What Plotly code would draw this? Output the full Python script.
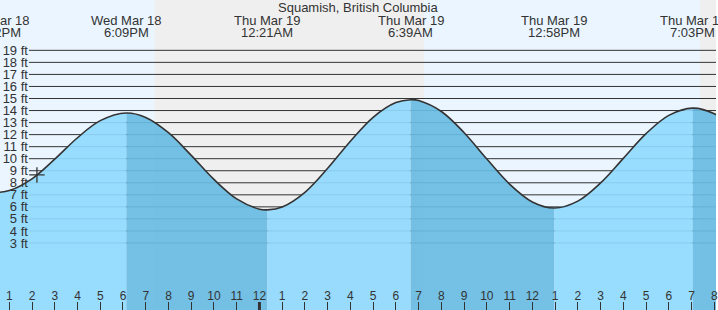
import plotly.graph_objects as go
import pandas as pd

# ---------------- data ----------------
times = [
    "2026-03-18 12:00", "2026-03-18 12:22", "2026-03-18 13:00", "2026-03-18 14:00",
    "2026-03-18 15:00", "2026-03-18 16:00", "2026-03-18 17:00", "2026-03-18 18:09",
    "2026-03-18 19:00", "2026-03-18 20:00", "2026-03-18 21:00", "2026-03-18 22:00",
    "2026-03-18 23:00", "2026-03-19 00:00", "2026-03-19 00:21", "2026-03-19 01:00",
    "2026-03-19 02:00", "2026-03-19 03:00", "2026-03-19 04:00", "2026-03-19 05:00",
    "2026-03-19 06:00", "2026-03-19 06:39", "2026-03-19 07:00", "2026-03-19 08:00",
    "2026-03-19 09:00", "2026-03-19 10:00", "2026-03-19 11:00", "2026-03-19 12:00",
    "2026-03-19 12:58", "2026-03-19 14:00", "2026-03-19 15:00", "2026-03-19 16:00",
    "2026-03-19 17:00", "2026-03-19 18:00", "2026-03-19 19:03", "2026-03-19 20:00",
    "2026-03-19 21:00",
]
heights = [
    7.20, 7.18, 7.35, 8.33,
    9.96, 11.74, 13.16, 13.80,
    13.43, 12.16, 10.28, 8.28,
    6.66, 5.81, 5.75, 5.99,
    7.21, 9.20, 11.45, 13.44,
    14.66, 14.90, 14.83, 13.92,
    12.16, 9.97, 7.89, 6.41,
    5.90, 6.48, 7.99, 10.03,
    12.08, 13.60, 14.20, 13.73,
    12.33,
]

ext_times = ["2026-03-18 12:22", "2026-03-18 18:09", "2026-03-19 00:21",
             "2026-03-19 06:39", "2026-03-19 12:58", "2026-03-19 19:03"]
ext_kind = ["low", "high", "low", "high", "low", "high"]

sun_events = ["2026-03-18 19:23", "2026-03-19 07:14", "2026-03-19 19:22"]  # sunset, sunrise, sunset

now_time = ["2026-03-18 14:13"]
now_height = [8.65]

ft_ticks = list(range(3, 20))
ft_labels = [f"{v} ft" for v in ft_ticks]
x_range = ["2026-03-18 12:35:32", "2026-03-19 20:04:30"]
y_range = [-2.565, 23.18]
midnight = "2026-03-19 00:00"
title = "Squamish, British Columbia"

# ---------------- styles ----------------
W, H = 718, 310
TXT = "#333333"
FONT = "Liberation Sans, Arial, sans-serif"
DAY_BG = "#eaf5ff"
NIGHT_BG = "#efefef"
WATER_RISE = "rgba(144,217,254,0.92)"
WATER_FALL = "rgba(105,188,227,0.92)"

t = pd.to_datetime(pd.Series(times))
h = pd.Series(heights)
x0, x1 = pd.Timestamp(x_range[0]), pd.Timestamp(x_range[1])


def to_paper(ts):
    return (pd.Timestamp(ts) - x0) / (x1 - x0)


fig = go.Figure()

# water fill, split into rising (light) and falling (dark) segments
ext_t = list(pd.to_datetime(pd.Series(ext_times)))
bounds = [t.iloc[0]] + ext_t[1:] + [t.iloc[-1]]
start_kind = ["low"] + ext_kind[1:]
base = y_range[0] - 3
for i in range(len(bounds) - 1):
    a, b = bounds[i], bounds[i + 1]
    m = (t >= a) & (t <= b)
    xs = list(t[m])
    ys = list(h[m])
    fig.add_trace(go.Scatter(x=[xs[0], xs[-1]], y=[base, base], mode="lines",
                             line=dict(width=0), hoverinfo="skip", showlegend=False))
    fig.add_trace(go.Scatter(x=xs, y=ys, mode="lines",
                             line=dict(width=0, shape="spline"),
                             fill="tonexty",
                             fillcolor=WATER_FALL if start_kind[i] == "high" else WATER_RISE,
                             hoverinfo="skip", showlegend=False))

# tide curve line
fig.add_trace(go.Scatter(x=t, y=h, mode="lines",
                         line=dict(color=TXT, width=1.6, shape="spline"),
                         hoverinfo="skip", showlegend=False))

# current-time marker
fig.add_trace(go.Scatter(x=pd.to_datetime(pd.Series(now_time)), y=now_height, mode="markers",
                         marker=dict(symbol="cross-thin", size=11,
                                     line=dict(color=TXT, width=1.3)),
                         hoverinfo="skip", showlegend=False))

shapes = []
# day / night background bands
edges = [x0] + list(pd.to_datetime(pd.Series(sun_events))) + [x1]
for i in range(len(edges) - 1):
    shapes.append(dict(type="rect", xref="x", yref="paper",
                       x0=edges[i], x1=edges[i + 1], y0=0, y1=1,
                       fillcolor=DAY_BG if i % 2 == 0 else NIGHT_BG,
                       line=dict(width=0), layer="below"))
# horizontal foot lines
for v in ft_ticks:
    shapes.append(dict(type="line", xref="paper", yref="y",
                       x0=29 / W, x1=1, y0=v, y1=v,
                       line=dict(color=TXT, width=1), layer="below"))
# midnight tick
shapes.append(dict(type="line", xref="x", yref="paper",
                   x0=midnight, x1=midnight, y0=0, y1=8 / H,
                   line=dict(color=TXT, width=3), layer="above"))

annotations = [dict(text=title, xref="paper", yref="paper", x=0.5, y=1 - 7.5 / H,
                    xanchor="center", yanchor="middle", showarrow=False,
                    font=dict(family=FONT, size=13, color=TXT))]
for ts in ext_t:
    px = to_paper(ts)
    day_txt = ts.strftime("%a %b ") + str(ts.day)
    hr = ts.hour % 12 or 12
    time_txt = f"{hr}:{ts.minute:02d}{'AM' if ts.hour < 12 else 'PM'}"
    annotations.append(dict(text=day_txt, xref="paper", yref="paper", x=px, y=1 - 20.5 / H,
                            xanchor="center", yanchor="middle", showarrow=False,
                            font=dict(family=FONT, size=13, color=TXT)))
    annotations.append(dict(text=time_txt, xref="paper", yref="paper", x=px, y=1 - 32.5 / H,
                            xanchor="center", yanchor="middle", showarrow=False,
                            font=dict(family=FONT, size=13, color=TXT)))

fig.update_layout(
    width=W, height=H,
    margin=dict(l=0, r=0, t=0, b=0),
    paper_bgcolor="white", plot_bgcolor=DAY_BG,
    showlegend=False,
    shapes=shapes, annotations=annotations,
    xaxis=dict(type="date", range=x_range, showgrid=False, zeroline=False,
               showline=False, dtick=3600000, tick0="2026-03-18 00:00",
               tickformat="%-I", ticks="inside", ticklen=8, tickwidth=1,
               tickcolor=TXT, ticklabelposition="inside", ticklabeloverflow="allow",
               ticklabelstandoff=-1,
               tickfont=dict(family=FONT, size=12, color=TXT), fixedrange=True),
    yaxis=dict(range=y_range, showgrid=False, zeroline=False, showline=False,
               anchor="free", position=28 / W, tickmode="array",
               tickvals=ft_ticks, ticktext=ft_labels,
               ticks="", tickfont=dict(family=FONT, size=13, color=TXT),
               fixedrange=True),
)

fig.write_html("out.html")
